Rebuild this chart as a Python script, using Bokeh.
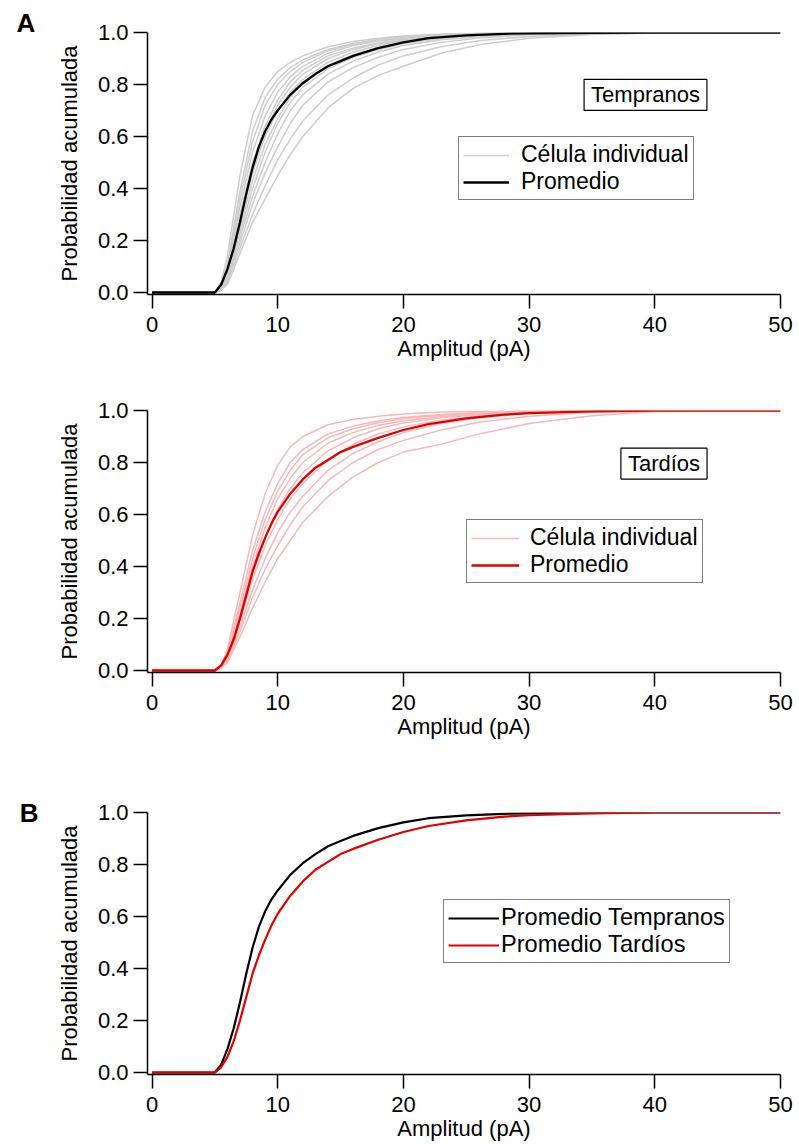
from bokeh.plotting import figure
from bokeh.models import (Legend, LegendItem, Label, FixedTicker, NumeralTickFormatter,
                          Range1d, Title, LinearAxis)
from bokeh.layouts import column
from bokeh.embed import file_html
from bokeh.resources import INLINE

# ---------------- data ----------------
amp = [0, 5, 5.5, 6, 6.5, 7, 7.5, 8, 8.5, 9, 9.5, 10, 11, 12, 13, 14, 15, 16, 18, 20,
       22, 25, 28, 30, 35, 40, 45, 50]
mean_tempranos = [0, 0, 0.03, 0.09, 0.17, 0.27, 0.38, 0.48, 0.56, 0.62, 0.665, 0.70, 0.76,
                  0.805, 0.84, 0.87, 0.89, 0.91, 0.94, 0.962, 0.978, 0.989,
                  0.995, 0.997, 0.999, 1.0, 1.0, 1.0]
mean_tardios = [0, 0, 0.02, 0.06, 0.12, 0.20, 0.29, 0.38, 0.45, 0.51, 0.565, 0.61, 0.68,
                0.735, 0.78, 0.81, 0.84, 0.86, 0.895, 0.925, 0.948, 0.97,
                0.984, 0.99, 0.997, 1.0, 1.0, 1.0]

amp_cell = [0, 5, 5.5, 6, 7, 8, 9, 10, 11, 12, 14, 16, 18, 20, 23, 26, 30, 35, 40, 50]
cells_tempranos = [
    [0, 0, 0.04, 0.14, 0.45, 0.68, 0.79, 0.85, 0.885, 0.91, 0.945, 0.965, 0.978, 0.987, 0.994, 0.997, 0.999, 1, 1, 1],
    [0, 0, 0.03, 0.11, 0.39, 0.62, 0.75, 0.82, 0.865, 0.895, 0.935, 0.958, 0.973, 0.983, 0.991, 0.996, 0.999, 1, 1, 1],
    [0, 0, 0.03, 0.10, 0.36, 0.58, 0.72, 0.80, 0.85, 0.885, 0.93, 0.955, 0.97, 0.98, 0.99, 0.995, 0.998, 1, 1, 1],
    [0, 0, 0.02, 0.09, 0.33, 0.54, 0.68, 0.77, 0.83, 0.87, 0.92, 0.95, 0.967, 0.978, 0.989, 0.995, 0.998, 1, 1, 1],
    [0, 0, 0.02, 0.08, 0.30, 0.50, 0.64, 0.74, 0.81, 0.855, 0.91, 0.94, 0.96, 0.975, 0.987, 0.994, 0.998, 1, 1, 1],
    [0, 0, 0.02, 0.08, 0.28, 0.48, 0.62, 0.72, 0.79, 0.84, 0.90, 0.935, 0.957, 0.972, 0.986, 0.993, 0.997, 0.999, 1, 1],
    [0, 0, 0.02, 0.07, 0.27, 0.46, 0.60, 0.70, 0.77, 0.82, 0.885, 0.925, 0.95, 0.968, 0.983, 0.992, 0.997, 0.999, 1, 1],
    [0, 0, 0.01, 0.06, 0.25, 0.43, 0.57, 0.67, 0.75, 0.81, 0.875, 0.915, 0.943, 0.962, 0.98, 0.99, 0.996, 0.999, 1, 1],
    [0, 0, 0.01, 0.06, 0.23, 0.40, 0.54, 0.65, 0.73, 0.79, 0.86, 0.905, 0.935, 0.957, 0.977, 0.988, 0.995, 0.999, 1, 1],
    [0, 0, 0.01, 0.05, 0.21, 0.37, 0.50, 0.61, 0.70, 0.76, 0.84, 0.89, 0.925, 0.95, 0.972, 0.985, 0.994, 0.998, 1, 1],
    [0, 0, 0.01, 0.05, 0.19, 0.34, 0.46, 0.56, 0.65, 0.72, 0.81, 0.865, 0.905, 0.935, 0.962, 0.979, 0.991, 0.997, 0.999, 1],
    [0, 0, 0.01, 0.04, 0.17, 0.30, 0.41, 0.51, 0.59, 0.66, 0.76, 0.825, 0.875, 0.91, 0.945, 0.968, 0.985, 0.995, 0.999, 1],
    [0, 0, 0.01, 0.03, 0.15, 0.27, 0.36, 0.45, 0.53, 0.60, 0.71, 0.785, 0.835, 0.87, 0.92, 0.953, 0.978, 0.992, 0.998, 1],
]
cells_tardios = [
    [0, 0, 0.02, 0.08, 0.30, 0.52, 0.68, 0.79, 0.86, 0.90, 0.945, 0.965, 0.978, 0.987, 0.994, 0.997, 0.999, 1, 1, 1],
    [0, 0, 0.02, 0.07, 0.26, 0.46, 0.61, 0.72, 0.80, 0.85, 0.91, 0.94, 0.96, 0.973, 0.985, 0.992, 0.997, 0.999, 1, 1],
    [0, 0, 0.02, 0.06, 0.24, 0.43, 0.58, 0.69, 0.77, 0.83, 0.895, 0.93, 0.953, 0.968, 0.982, 0.99, 0.996, 0.999, 1, 1],
    [0, 0, 0.02, 0.06, 0.22, 0.40, 0.55, 0.66, 0.74, 0.80, 0.875, 0.915, 0.943, 0.96, 0.977, 0.987, 0.995, 0.999, 1, 1],
    [0, 0, 0.01, 0.05, 0.20, 0.37, 0.51, 0.62, 0.70, 0.76, 0.845, 0.895, 0.93, 0.952, 0.972, 0.985, 0.994, 0.998, 1, 1],
    [0, 0, 0.01, 0.05, 0.19, 0.35, 0.48, 0.58, 0.66, 0.72, 0.81, 0.87, 0.91, 0.937, 0.963, 0.98, 0.992, 0.998, 1, 1],
    [0, 0, 0.01, 0.04, 0.17, 0.31, 0.43, 0.53, 0.61, 0.67, 0.77, 0.835, 0.88, 0.915, 0.95, 0.972, 0.988, 0.997, 1, 1],
    [0, 0, 0.01, 0.04, 0.15, 0.28, 0.39, 0.48, 0.56, 0.63, 0.73, 0.80, 0.85, 0.885, 0.925, 0.955, 0.978, 0.993, 0.999, 1],
    [0, 0, 0.01, 0.03, 0.13, 0.24, 0.34, 0.43, 0.50, 0.57, 0.67, 0.745, 0.80, 0.84, 0.87, 0.91, 0.95, 0.98, 0.996, 1],
]

x_ticks = [0, 10, 20, 30, 40, 50]
y_ticks = [0.0, 0.2, 0.4, 0.6, 0.8, 1.0]
x_label = "Amplitud (pA)"
y_label = "Probabilidad acumulada"

FONT = "Liberation Sans"
FS = "22px"
LFS = "23px"
GRAY = "#cdcdcd"
PINK = "#f6b9b9"
RED = "#e10000"
BLACK = "#000000"


def make_fig(top, bottom):
    p = figure(frame_width=633, frame_height=262,
               min_border_left=147, min_border_right=16,
               min_border_top=top, min_border_bottom=bottom,
               x_range=Range1d(-0.358, 50), y_range=Range1d(-0.0077, 1.0),
               output_backend="svg", toolbar_location=None,
               background_fill_color="white", border_fill_color="white")
    p.outline_line_color = None
    p.grid.visible = False
    for ax in (p.xaxis[0], p.yaxis[0]):
        ax.axis_line_color = BLACK
        ax.axis_line_width = 1.5
        ax.major_tick_line_color = BLACK
        ax.major_tick_line_width = 1.5
        ax.major_tick_out = 14
        ax.major_tick_in = 0
        ax.minor_tick_line_color = None
        ax.major_label_text_font = FONT
        ax.major_label_text_font_size = FS
        ax.major_label_text_color = BLACK
        ax.axis_label_text_font = FONT
        ax.axis_label_text_font_size = FS
        ax.axis_label_text_font_style = "normal"
        ax.axis_label_text_color = BLACK
    p.xaxis.ticker = FixedTicker(ticks=x_ticks)
    p.yaxis.ticker = FixedTicker(ticks=y_ticks)
    p.yaxis.formatter = NumeralTickFormatter(format="0.0")
    p.xaxis.axis_label = x_label
    p.yaxis.axis_label = y_label
    p.xaxis.major_label_standoff = 8
    p.xaxis.axis_label_standoff = 1
    p.yaxis.major_label_standoff = 5
    p.yaxis.axis_label_standoff = 13
    return p


def make_legend(items, loc, glyph_w, standoff, fs=LFS):
    lg = Legend(items=items, location=loc, orientation="vertical",
                label_text_font=FONT, label_text_font_size=fs,
                label_text_color=BLACK, glyph_width=glyph_w, glyph_height=24,
                label_height=24, label_standoff=standoff, spacing=0,
                padding=4, margin=0, border_line_color=BLACK,
                border_line_width=1.5, background_fill_color="white",
                background_fill_alpha=1.0)
    return lg


def box_label(p, text, x, y):
    p.add_layout(Label(x=x, y=y, text=text, text_font=FONT, text_font_size=FS,
                       text_color=BLACK, text_align="center",
                       text_baseline="middle", border_line_color=BLACK,
                       border_line_width=1.2, background_fill_color="white",
                       padding=dict(left=7, right=7, top=3, bottom=3)))


# ---------------- panel A (Tempranos) ----------------
p1 = make_fig(32, 86)
r_cells1 = p1.multi_line(xs=[amp_cell] * len(cells_tempranos), ys=cells_tempranos,
                         line_color=GRAY, line_width=1.5)
r_mean1 = p1.line(amp, mean_tempranos, line_color=BLACK, line_width=2.3)
p1.add_layout(make_legend([LegendItem(label="Célula individual", renderers=[r_cells1]),
                           LegendItem(label="Promedio", renderers=[r_mean1])],
                          (311, 94), 46, 12))
box_label(p1, "Tempranos", 39.26, 0.76)
p1.add_layout(Title(text="A", align="left", offset=-131, standoff=-11,
                    text_font=FONT, text_font_size="26px", text_font_style="bold",
                    text_color=BLACK), "above")

# ---------------- panel A (Tardíos) ----------------
p2 = make_fig(30, 98)
r_cells2 = p2.multi_line(xs=[amp_cell] * len(cells_tardios), ys=cells_tardios,
                         line_color=PINK, line_width=1.5)
r_mean2 = p2.line(amp, mean_tardios, line_color=RED, line_width=2.3)
p2.add_layout(make_legend([LegendItem(label="Célula individual", renderers=[r_cells2]),
                           LegendItem(label="Promedio", renderers=[r_mean2])],
                          (319, 89), 48, 11))
box_label(p2, "Tardíos", 40.73, 0.796)

# ---------------- panel B ----------------
p3 = make_fig(42, 70)
r_t = p3.line(amp, mean_tempranos, line_color=BLACK, line_width=2.2)
r_d = p3.line(amp, mean_tardios, line_color=RED, line_width=2.2)
p3.add_layout(make_legend([LegendItem(label="Promedio Tempranos", renderers=[r_t]),
                           LegendItem(label="Promedio Tardíos", renderers=[r_d])],
                          (296, 111), 51, 2, fs="23.6px"))
p3.extra_y_ranges = {"letter": Range1d(-0.0077, 1.0)}
letter_axis = LinearAxis(y_range_name="letter", ticker=FixedTicker(ticks=[1.0]),
                         major_label_overrides={1.0: "B"},
                         axis_line_color=None, major_tick_line_color=None,
                         minor_tick_line_color=None, major_tick_out=0, major_tick_in=0,
                         minor_tick_out=0, minor_tick_in=0,
                         major_label_standoff=15, major_label_text_font=FONT,
                         major_label_text_font_size="26px",
                         major_label_text_font_style="bold",
                         major_label_text_color=BLACK)
p3.add_layout(letter_axis, "left")

layout = column(p1, p2, p3, spacing=0)

html = file_html(layout, INLINE)
html = html.replace("</head>", "<style>html,body{overflow:hidden;}</style></head>", 1)
open("out.html", "w").write(html)
